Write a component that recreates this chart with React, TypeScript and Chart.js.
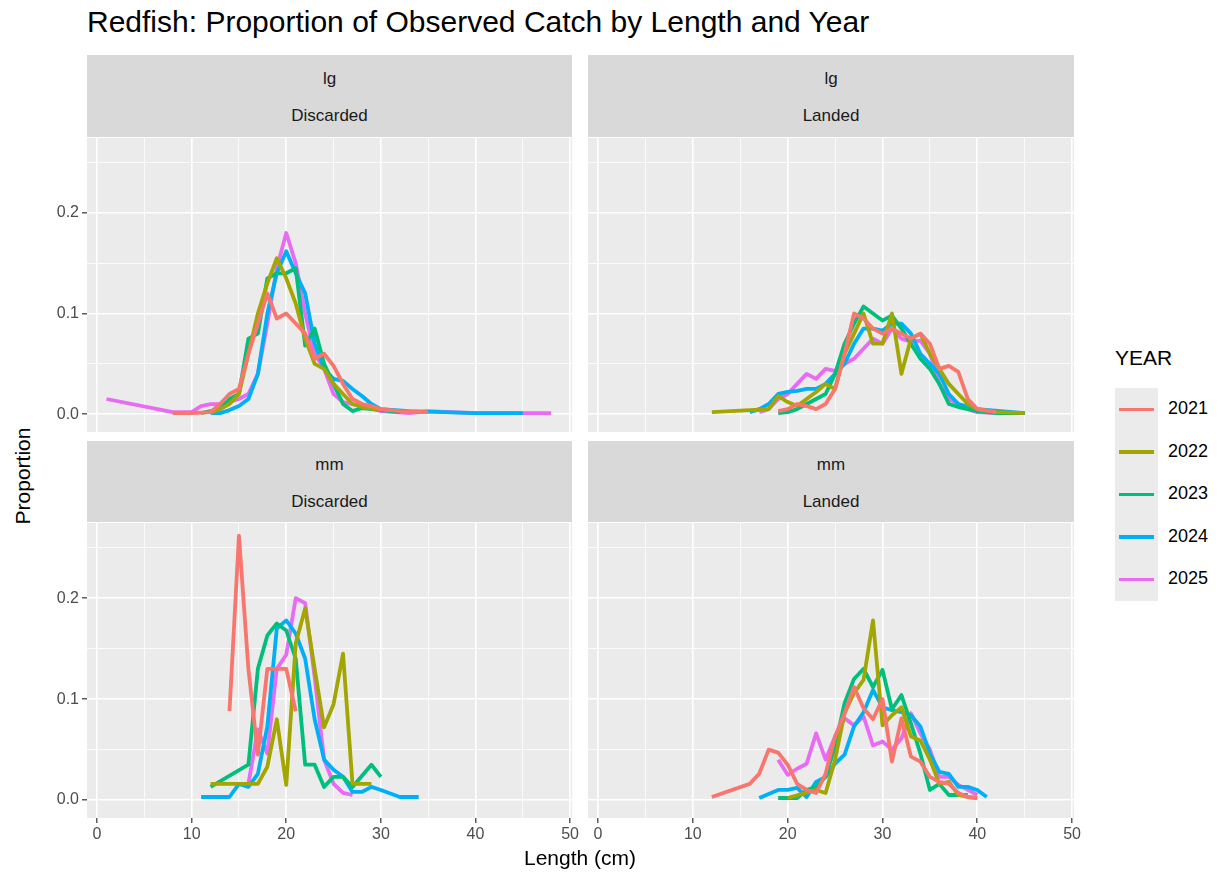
import React, { useEffect, useRef } from "react";
import { Chart, registerables } from "chart.js";
Chart.register(...registerables);

type P = [number, number][];
const YEARS = ["2021", "2022", "2023", "2024", "2025"];
const COLORS = ["#F8766D", "#A3A500", "#00BF7D", "#00B0F6", "#E76BF3"];
const X_TICKS = [0, 10, 20, 30, 40, 50];
const Y_TICKS = [0, 0.1, 0.2];

// lg / Discarded
const lgDisc2021: P = [[8,0.001],[10,0.001],[12,0.002],[13,0.01],[14,0.02],[15,0.025],[16,0.06],[17,0.09],[18,0.12],[19,0.095],[20,0.1],[21,0.09],[22,0.08],[23,0.055],[24,0.06],[25,0.048],[26,0.03],[27,0.015],[28,0.01],[29,0.008],[30,0.005],[32,0.003],[35,0.002]];
const lgDisc2022: P = [[12,0.001],[13,0.005],[14,0.01],[15,0.02],[16,0.06],[17,0.1],[18,0.13],[19,0.155],[20,0.135],[21,0.11],[22,0.075],[23,0.05],[24,0.045],[25,0.03],[26,0.02],[27,0.01],[28,0.007],[30,0.004]];
const lgDisc2023: P = [[11,0.001],[13,0.005],[14,0.015],[15,0.02],[16,0.075],[17,0.08],[18,0.135],[19,0.14],[20,0.14],[21,0.145],[22,0.068],[23,0.085],[24,0.05],[25,0.03],[26,0.01],[27,0.003],[28,0.006],[29,0.005],[30,0.004],[32,0.002]];
const lgDisc2024: P = [[12,0.001],[13,0.001],[14,0.004],[15,0.008],[16,0.015],[17,0.04],[18,0.1],[19,0.14],[20,0.162],[21,0.14],[22,0.12],[23,0.07],[24,0.045],[25,0.035],[26,0.033],[27,0.025],[28,0.018],[29,0.01],[30,0.005],[33,0.003],[40,0.001],[45,0.001]];
const lgDisc2025: P = [[1,0.015],[8,0.002],[10,0.002],[11,0.008],[12,0.01],[13,0.01],[14,0.012],[15,0.015],[16,0.02],[17,0.04],[18,0.09],[19,0.145],[20,0.18],[21,0.15],[22,0.1],[23,0.06],[24,0.045],[25,0.02],[26,0.012],[27,0.01],[28,0.008],[29,0.006],[30,0.003],[33,0.001],[35,0.003],[40,0.001],[48,0.001]];

// lg / Landed
const lgLand2021: P = [[19,0.003],[20,0.005],[21,0.01],[22,0.008],[23,0.005],[24,0.01],[25,0.025],[26,0.06],[27,0.1],[28,0.095],[29,0.085],[30,0.08],[31,0.085],[32,0.08],[33,0.075],[34,0.08],[35,0.07],[36,0.045],[37,0.048],[38,0.042],[39,0.015],[40,0.005],[42,0.002]];
const lgLand2022: P = [[12,0.002],[18,0.005],[19,0.018],[20,0.012],[21,0.008],[22,0.015],[23,0.022],[24,0.03],[25,0.025],[26,0.06],[27,0.08],[28,0.1],[29,0.07],[30,0.07],[31,0.1],[32,0.04],[33,0.075],[34,0.08],[35,0.06],[36,0.045],[37,0.03],[38,0.02],[39,0.01],[40,0.005],[42,0.002],[45,0.001]];
const lgLand2023: P = [[19,0.001],[20,0.002],[21,0.005],[22,0.01],[23,0.015],[24,0.02],[25,0.04],[26,0.07],[27,0.09],[28,0.107],[29,0.1],[30,0.093],[31,0.098],[32,0.085],[33,0.07],[34,0.055],[35,0.045],[36,0.03],[37,0.01],[38,0.007],[40,0.003],[42,0.001],[45,0.001]];
const lgLand2024: P = [[16,0.002],[17,0.005],[18,0.01],[19,0.02],[20,0.022],[21,0.023],[22,0.025],[23,0.025],[24,0.03],[25,0.04],[26,0.05],[27,0.07],[28,0.085],[29,0.085],[30,0.083],[31,0.09],[32,0.09],[33,0.08],[34,0.06],[35,0.05],[36,0.04],[37,0.02],[38,0.01],[40,0.005],[45,0.001]];
const lgLand2025: P = [[17,0.002],[18,0.005],[19,0.015],[20,0.02],[21,0.03],[22,0.04],[23,0.035],[24,0.045],[25,0.043],[26,0.05],[27,0.055],[28,0.065],[29,0.075],[30,0.07],[31,0.085],[32,0.075],[33,0.072],[34,0.073],[35,0.06],[36,0.03],[37,0.015],[38,0.01],[39,0.005],[40,0.002],[42,0.001],[45,0.001]];

// mm / Discarded
const mmDisc2021: P = [[14,0.088],[15,0.262],[16,0.13],[17,0.045],[18,0.13],[19,0.13],[20,0.13],[21,0.088]];
const mmDisc2022: P = [[12,0.016],[13,0.016],[14,0.016],[15,0.016],[16,0.016],[17,0.016],[18,0.033],[19,0.08],[20,0.015],[21,0.155],[22,0.19],[23,0.13],[24,0.072],[25,0.095],[26,0.145],[27,0.016],[28,0.016],[29,0.016]];
const mmDisc2023: P = [[12,0.013],[16,0.035],[17,0.13],[18,0.163],[19,0.175],[20,0.168],[21,0.14],[22,0.035],[23,0.035],[24,0.013],[25,0.023],[26,0.023],[27,0.013],[29,0.035],[30,0.023]];
const mmDisc2024: P = [[11,0.003],[14,0.003],[15,0.016],[16,0.013],[17,0.026],[18,0.073],[19,0.17],[20,0.178],[21,0.165],[22,0.14],[23,0.08],[24,0.04],[25,0.03],[26,0.023],[27,0.008],[28,0.008],[29,0.013],[30,0.01],[32,0.003],[34,0.003]];
const mmDisc2025: P = [[16,0.016],[17,0.07],[18,0.046],[19,0.13],[20,0.144],[21,0.2],[22,0.195],[23,0.122],[24,0.04],[25,0.016],[26,0.007],[27,0.005]];

// mm / Landed
const mmLand2021: P = [[12,0.003],[16,0.016],[17,0.026],[18,0.05],[19,0.047],[20,0.035],[21,0.016],[22,0.01],[23,0.007],[24,0.026],[25,0.063],[26,0.086],[27,0.112],[28,0.091],[29,0.08],[30,0.1],[31,0.038],[32,0.081],[33,0.043],[34,0.038],[35,0.023],[36,0.018],[37,0.016],[38,0.007],[39,0.003],[40,0.002]];
const mmLand2022: P = [[20,0.002],[23,0.01],[24,0.007],[25,0.04],[26,0.086],[27,0.106],[28,0.119],[29,0.178],[30,0.074],[31,0.084],[32,0.092],[33,0.063],[34,0.059],[35,0.04],[36,0.016],[37,0.018],[38,0.005],[39,0.003],[40,0.002]];
const mmLand2023: P = [[19,0.002],[21,0.002],[22,0.01],[23,0.013],[24,0.023],[25,0.053],[26,0.096],[27,0.12],[28,0.13],[29,0.112],[30,0.129],[31,0.09],[32,0.104],[33,0.076],[34,0.046],[35,0.01],[36,0.016],[37,0.005],[39,0.005]];
const mmLand2024: P = [[17,0.002],[19,0.01],[20,0.01],[21,0.012],[22,0.003],[23,0.018],[24,0.023],[25,0.036],[26,0.045],[27,0.073],[28,0.087],[29,0.109],[30,0.092],[31,0.089],[32,0.087],[33,0.084],[34,0.073],[35,0.046],[36,0.028],[37,0.026],[38,0.013],[39,0.013],[40,0.01],[41,0.003]];
const mmLand2025: P = [[19,0.04],[20,0.025],[21,0.031],[22,0.036],[23,0.066],[24,0.04],[25,0.063],[26,0.081],[27,0.074],[28,0.083],[29,0.054],[30,0.058],[31,0.05],[32,0.061],[33,0.086],[34,0.066],[35,0.05],[36,0.023],[37,0.023],[38,0.015],[39,0.01],[40,0.005]];

const X_MIN = -1.06, X_MAX = 50.2, Y_MIN = -0.0178, Y_MAX = 0.2745;
const FONT = "'Liberation Sans', Arial, sans-serif";

const PANELS = [
  { g: "lg", c: "Discarded", series: [lgDisc2021, lgDisc2022, lgDisc2023, lgDisc2024, lgDisc2025], left: 87, top: 138, w: 485, h: 294, showX: false, showY: true, stripTop: 55 },
  { g: "lg", c: "Landed", series: [lgLand2021, lgLand2022, lgLand2023, lgLand2024, lgLand2025], left: 588, top: 138, w: 486, h: 294, showX: false, showY: false, stripTop: 55 },
  { g: "mm", c: "Discarded", series: [mmDisc2021, mmDisc2022, mmDisc2023, mmDisc2024, mmDisc2025], left: 87, top: 523, w: 485, h: 295, showX: true, showY: true, stripTop: 441 },
  { g: "mm", c: "Landed", series: [mmLand2021, mmLand2022, mmLand2023, mmLand2024, mmLand2025], left: 588, top: 523, w: 486, h: 295, showX: true, showY: false, stripTop: 441 },
];

const YW = 45, XH = 34, RP = 12;
const near = (v: number, arr: number[]) => arr.some((a) => Math.abs(a - v) < 1e-6);
const zeroPad = (s: any) => { s.paddingLeft = 0; s.paddingRight = 0; s.paddingTop = 0; s.paddingBottom = 0; };

function Panel({ p }: { p: typeof PANELS[number] }) {
  const ref = useRef<HTMLCanvasElement>(null);
  const cw = p.w + (p.showY ? YW : 0) + RP;
  const ch = p.h + (p.showX ? XH : 0);
  useEffect(() => {
    const chart = new Chart(ref.current!, {
      type: "line",
      data: {
        datasets: p.series.map((s, i) => ({
          label: YEARS[i],
          data: s.map(([x, y]) => ({ x, y })),
          borderColor: COLORS[i],
          backgroundColor: COLORS[i],
          borderWidth: 3.8,
          pointRadius: 0,
          tension: 0,
          borderJoinStyle: "round" as const,
        })),
      },
      options: {
        animation: false,
        responsive: false,
        maintainAspectRatio: false,
        devicePixelRatio: 1,
        layout: { padding: { left: 0, top: 0, bottom: 0, right: RP }, autoPadding: false },
        plugins: { legend: { display: false }, tooltip: { enabled: false } },
        scales: {
          x: {
            type: "linear", min: X_MIN, max: X_MAX,
            afterFit: (s: any) => { s.height = p.showX ? XH : 0; zeroPad(s); },
            border: { display: false },
            grid: {
              color: "#FFFFFF",
              lineWidth: (c: any) => (near(c.tick.value, X_TICKS) ? 1.6 : 0.8),
              drawTicks: p.showX,
              tickLength: 5,
              tickWidth: 1.2,
              tickColor: (c: any) => (near(c.tick.value, X_TICKS) ? "#333333" : "rgba(0,0,0,0)"),
            },
            ticks: {
              display: p.showX, stepSize: 5, includeBounds: false, autoSkip: false, maxRotation: 0,
              padding: 2, color: "#4D4D4D", font: { size: 16, family: FONT },
              callback: (v: any) => (near(Number(v), X_TICKS) ? String(v) : ""),
            },
          },
          y: {
            type: "linear", min: Y_MIN, max: Y_MAX,
            afterFit: (s: any) => { s.width = p.showY ? YW : 0; zeroPad(s); },
            border: { display: false },
            grid: {
              color: "#FFFFFF",
              lineWidth: (c: any) => (near(c.tick.value, Y_TICKS) ? 1.6 : 0.8),
              drawTicks: p.showY,
              tickLength: 5,
              tickWidth: 1.2,
              tickColor: (c: any) => (near(c.tick.value, Y_TICKS) ? "#333333" : "rgba(0,0,0,0)"),
            },
            ticks: {
              display: p.showY, stepSize: 0.05, includeBounds: false, autoSkip: false,
              padding: 3, color: "#4D4D4D", font: { size: 16, family: FONT },
              callback: (v: any) => (near(Number(v), Y_TICKS) ? Number(v).toFixed(1) : ""),
            },
          },
        },
      } as any,
    });
    return () => chart.destroy();
  }, []);
  return (
    <>
      <div style={{ position: "absolute", left: p.left, top: p.stripTop, width: p.w, height: p.top - p.stripTop - 1, background: "#D9D9D9", color: "#1A1A1A", fontSize: 17, fontFamily: FONT }}>
        <div style={{ position: "absolute", top: 14, width: "100%", textAlign: "center" }}>{p.g}</div>
        <div style={{ position: "absolute", top: 51, width: "100%", textAlign: "center" }}>{p.c}</div>
      </div>
      <div style={{ position: "absolute", left: p.left, top: p.top, width: p.w, height: p.h, background: "#EBEBEB" }} />
      <canvas ref={ref} width={cw} height={ch} style={{ position: "absolute", left: p.left - (p.showY ? YW : 0), top: p.top, width: cw, height: ch }} />
    </>
  );
}

export default function App() {
  return (
    <div style={{ position: "fixed", left: 0, top: 0, width: 1226, height: 878, background: "#FFFFFF", fontFamily: FONT, overflow: "hidden" }}>
      <div style={{ position: "absolute", left: 87, top: 5, fontSize: 30, color: "#000" }}>Redfish: Proportion of Observed Catch by Length and Year</div>
      {PANELS.map((p, i) => <Panel key={i} p={p} />)}
      <div style={{ position: "absolute", left: 580, top: 846, transform: "translateX(-50%)", fontSize: 21, color: "#000" }}>Length (cm)</div>
      <div style={{ position: "absolute", left: 23, top: 476, transform: "translate(-50%,-50%) rotate(-90deg)", fontSize: 21, color: "#000", whiteSpace: "nowrap" }}>Proportion</div>
      <div style={{ position: "absolute", left: 1115, top: 346, fontSize: 21, color: "#000" }}>YEAR</div>
      {YEARS.map((y, i) => (
        <React.Fragment key={y}>
          <div style={{ position: "absolute", left: 1115, top: 388 + i * 42.5, width: 43, height: 42.5, background: "#EBEBEB" }}>
            <div style={{ position: "absolute", left: 4, right: 4, top: 19.5, height: 3.5, background: COLORS[i] }} />
          </div>
          <div style={{ position: "absolute", left: 1168, top: 398 + i * 42.5, fontSize: 18, color: "#000" }}>{y}</div>
        </React.Fragment>
      ))}
    </div>
  );
}
